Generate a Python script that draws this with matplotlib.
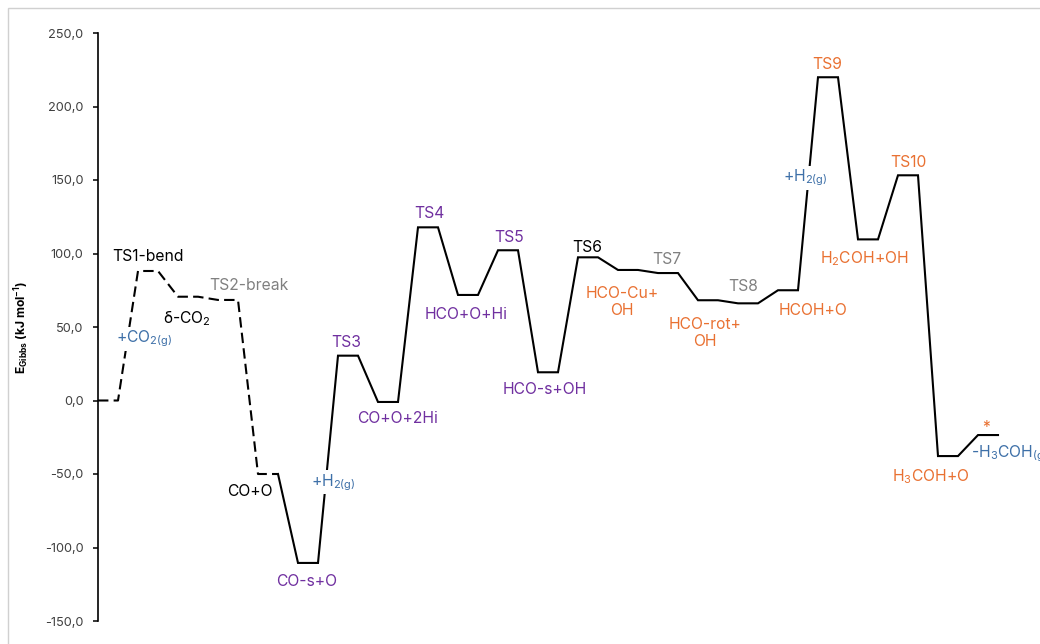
import matplotlib
matplotlib.use("Agg")
import matplotlib.pyplot as plt
from matplotlib.patches import Rectangle

plt.rcParams['font.family'] = ['Inter', 'DejaVu Sans']
plt.rcParams['mathtext.fontset'] = 'custom'
plt.rcParams['mathtext.rm'] = 'Inter'
plt.rcParams['mathtext.bf'] = 'Inter:bold'

# Gibbs energy of each state along the pathway (kJ/mol)
states = ['start', 'TS1-bend', 'd-CO2', 'TS2-break', 'CO+O', 'CO-s+O', 'TS3',
          'CO+O+2Hi', 'TS4', 'HCO+O+Hi', 'TS5', 'HCO-s+OH', 'TS6', 'HCO-Cu+OH',
          'TS7', 'HCO-rot+OH', 'TS8', 'HCOH+O', 'TS9', 'H2COH+OH', 'TS10',
          'H3COH+O', '*']
energies = [0.0, 88.1, 70.6, 68.4, -50.0, -110.5, 30.5, -1.0, 117.8, 71.8,
            102.2, 19.2, 97.4, 88.8, 86.7, 68.2, 66.1, 75.0, 219.9, 109.6,
            153.2, -37.8, -23.5]
n_dashed = 5  # first states (CO2 activation) drawn dashed

yticks = [-150, -100, -50, 0, 50, 100, 150, 200, 250]

PURPLE = '#7030A0'
ORANGE = '#E97132'
BLUE = '#3E70A8'
GRAY = '#808080'

# state labels: text, state index, offset (px), colour
state_labels = [
    ('TS1-bend', 1, (0, 14), 'black'),
    (r'δ-CO$\mathregular{_2}$', 2, (-1, -22), 'black'),
    ('TS2-break', 3, (21, 14), GRAY),
    ('CO+O', 4, (-18, -18), 'black'),
    ('CO-s+O', 5, (-1, -19), PURPLE),
    ('TS3', 6, (-2, 13), PURPLE),
    ('CO+O+2Hi', 7, (10, -17), PURPLE),
    ('TS4', 8, (1, 14), PURPLE),
    ('HCO+O+Hi', 9, (-2, -20), PURPLE),
    ('TS5', 10, (1, 13), PURPLE),
    ('HCO-s+OH', 11, (-3, -17), PURPLE),
    ('TS6', 12, (-1, 10), 'black'),
    ('HCO-Cu+\nOH', 13, (-6, -32), ORANGE),
    ('TS7', 14, (-1, 14), GRAY),
    ('HCO-rot+\nOH', 15, (-3, -33), ORANGE),
    ('TS8', 16, (-5, 17), GRAY),
    ('HCOH+O', 17, (25, -20), ORANGE),
    ('TS9', 18, (-1, 13), ORANGE),
    (r'H$\mathregular{_2}$COH+OH', 19, (-4, -19), ORANGE),
    ('TS10', 20, (0, 13), ORANGE),
    (r'H$\mathregular{_3}$COH+O', 21, (-17, -21), ORANGE),
    ('*', 22, (-2, 8), ORANGE),
]

# gas-phase labels sitting on the connector leading into state i
gas_labels = [
    (r'+CO$\mathregular{_{2(g)}}$', 1, (16, -3)),
    (r'+H$\mathregular{_{2(g)}}$', 6, (5, -23)),
    (r'+H$\mathregular{_{2(g)}}$', 18, (-3, 6)),
]

FS = 11.3

fig = plt.figure(figsize=(10.4, 6.44), dpi=100)
fig.patches.append(Rectangle((8 / 1040, -0.2), 2, 1.2 - 8 / 644,
                             transform=fig.transFigure, fill=False,
                             edgecolor='#d0d0d0', linewidth=1))
ax = fig.add_axes([98 / 1040, 23 / 644, 1 - 98 / 1040, 588 / 644])

xs, ys = [], []
for i, e in enumerate(energies):
    xs += [2 * i, 2 * i + 1]
    ys += [e, e]
k = 2 * n_dashed
ax.plot(xs[:k], ys[:k], color='black', lw=1.5, linestyle=(0, (5, 2.5)),
        solid_capstyle='butt', zorder=2)
ax.plot(xs[k - 1:], ys[k - 1:], color='black', lw=1.5, zorder=2,
        solid_joinstyle='miter')

for text, i, (dx, dy), col in state_labels:
    ax.annotate(text, (2 * i + 0.5, energies[i]), xytext=(dx, dy),
                textcoords='offset pixels', ha='center', va='center',
                color=col, fontsize=FS, linespacing=1.2)

for text, i, (dx, dy) in gas_labels:
    xm = 2 * i - 0.5
    ym = (energies[i - 1] + energies[i]) / 2
    ax.annotate(text, (xm, ym), xytext=(dx, dy), textcoords='offset pixels',
                ha='center', va='center', color=BLUE, fontsize=FS, zorder=3,
                bbox=dict(boxstyle='square,pad=0.1', fc='white', ec='none'))

# gas-phase methanol leaving; runs off the right edge as in the source figure
last = len(energies) - 1
ax.annotate(r'-H$\mathregular{_3}$COH$\mathregular{_{(g)}}$',
            (2 * last + 0.5, energies[last]), xytext=(-17, -19),
            textcoords='offset pixels', ha='left', va='center', color=BLUE,
            fontsize=FS, annotation_clip=False)

ax.set_xlim(0, (1040 - 98) / 20)
ax.set_ylim(-150, 250)
ax.set_yticks(yticks)
ax.set_yticklabels([f'{v:.1f}'.replace('.', ',') for v in yticks])
ax.set_xticks([])
for s in ['top', 'right', 'bottom']:
    ax.spines[s].set_visible(False)
ax.spines['left'].set_linewidth(1.2)
ax.tick_params(axis='y', direction='out', length=3.5, width=1.1, pad=7,
               labelsize=9.2, labelcolor='#404040')
ax.set_ylabel(r'$\mathbf{E_{Gibbs}}$ (kJ mol$\mathbf{^{-1}}$)',
              fontsize=8.7, fontweight='bold', labelpad=10)
ax.patch.set_alpha(0)

fig.savefig('out.png', dpi=100)
